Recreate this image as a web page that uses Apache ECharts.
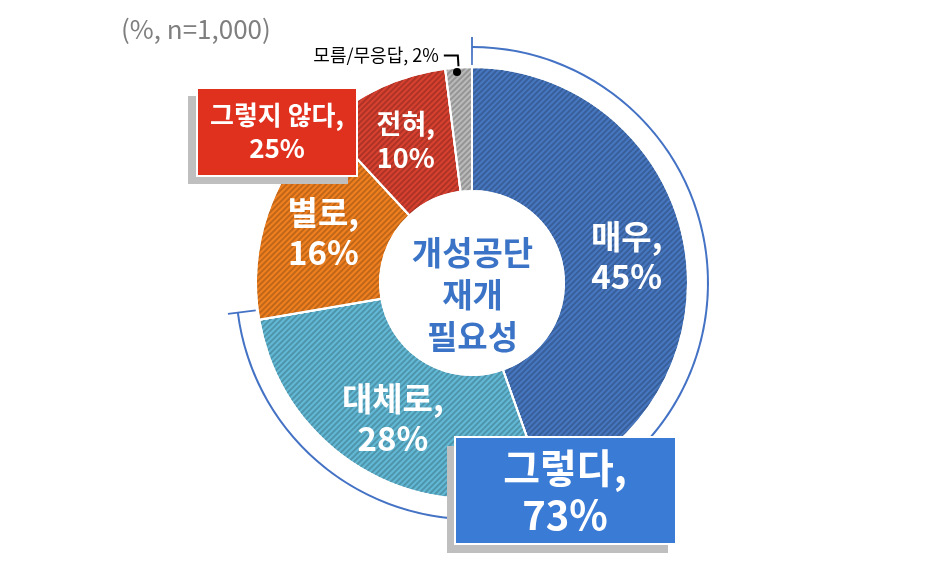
<!DOCTYPE html>
<html>
<head>
<meta charset="utf-8">
<title>개성공단 재개 필요성</title>
<script src="https://cdn.jsdelivr.net/npm/echarts@6/dist/echarts.min.js"></script>
<style>
    html, body { margin: 0; padding: 0; background: #fff; }
    #chart { width: 945px; height: 575px; }
</style>
</head>
<body>
<div id="chart"></div>
<script>
// 응답 항목 (시계 방향, 12시부터)
var categories = ["매우", "대체로", "별로", "전혀", "모름/무응답"];
var values = [45, 28, 16, 10, 2];
var colors = ["#4677c0", "#62b9d6", "#f0801f", "#d8402f", "#bababa"];
// 묶음 (그렇다 / 그렇지 않다)
var groupNames = ["그렇다", "그렇지 않다"];
var groupValues = [73, 25];

var font = "Noto Sans CJK KR";
var cx = 472, cy = 283;

var myChart = echarts.init(document.getElementById("chart"));

// 빗금 무늬
var stripe = {
    symbol: "rect",
    symbolSize: 1,
    dashArrayX: [1, 0],
    dashArrayY: [1.5, 1.5],
    rotation: -Math.PI / 4,
    color: "rgba(0,0,0,0.2)"
};

var pieData = categories.map(function (name, i) {
    var item = {
        name: name,
        value: values[i],
        itemStyle: { color: colors[i], decal: stripe }
    };
    if (i === 3) {
        item.label = { fontSize: 27, lineHeight: 34 };
    }
    if (i === 4) {
        item.label = {
            position: "outside",
            color: "#000",
            fontSize: 18,
            fontWeight: "normal",
            distance: 4,
            formatter: function (p) { return p.name + ", " + p.value + "%"; }
        };
        item.labelLine = { show: true, length: 12, length2: 14, lineStyle: { color: "#000", width: 2 } };
    }
    return item;
});

// 73% 바깥 호와 양끝 눈금
var rest = 100 - groupValues[0];
var tick = 0.12;
var option = {
    title: [{
        text: "(%, n=1,000)",
        left: 116,
        top: 11,
        textStyle: { fontFamily: font, fontSize: 26, fontWeight: "normal", color: "#7f7f7f" }
    }, {
        text: "개성공단\n재개\n필요성",
        left: "center",
        top: 226,
        textStyle: { fontFamily: font, fontSize: 33, fontWeight: "bold", color: "#3b74c6", lineHeight: 42 }
    }],
    series: [{
        type: "pie",
        center: [cx, cy],
        radius: [92, 216],
        startAngle: 90,
        clockwise: true,
        silent: true,
        itemStyle: { borderColor: "#fff", borderWidth: 2 },
        label: {
            show: true,
            position: "inside",
            fontFamily: font,
            fontSize: 33,
            fontWeight: "bold",
            color: "#fff",
            lineHeight: 40,
            formatter: function (p) { return p.name + ",\n" + p.value + "%"; }
        },
        labelLine: { show: false },
        data: pieData
    }, {
        type: "pie",
        center: [cx, cy],
        radius: [235, 237],
        startAngle: 90,
        silent: true,
        label: { show: false },
        labelLine: { show: false },
        data: [
            { name: groupNames[0], value: groupValues[0], itemStyle: { color: "#4472c4" } },
            { name: "", value: rest, itemStyle: { color: "transparent" } }
        ]
    }, {
        type: "pie",
        center: [cx, cy],
        radius: [218, 246],
        startAngle: 90 + tick * 3.6 / 2,
        silent: true,
        label: { show: false },
        labelLine: { show: false },
        data: [
            { value: tick, itemStyle: { color: "#4472c4" } },
            { value: groupValues[0] - tick, itemStyle: { color: "transparent" } },
            { value: tick, itemStyle: { color: "#4472c4" } },
            { value: rest - tick, itemStyle: { color: "transparent" } }
        ]
    }],
    graphic: [
        // 그렇지 않다 상자
        { type: "rect", z: 100, shape: { x: 188, y: 96, width: 160, height: 88 }, style: { fill: "#bfbfbf" } },
        { type: "rect", z: 101, shape: { x: 197, y: 88, width: 160, height: 88 }, style: { fill: "#e0301e", stroke: "#fff", lineWidth: 2 } },
        {
            type: "text", z: 102, x: 277, y: 132,
            style: {
                text: groupNames[1] + ",\n" + groupValues[1] + "%",
                fill: "#fff", font: "bold 26px '" + font + "'",
                align: "center", verticalAlign: "middle", lineHeight: 33
            }
        },
        // 그렇다 상자
        { type: "rect", z: 100, shape: { x: 447, y: 446, width: 221, height: 107 }, style: { fill: "#bfbfbf" } },
        { type: "rect", z: 101, shape: { x: 455, y: 437, width: 221, height: 107 }, style: { fill: "#3a7bd5", stroke: "#fff", lineWidth: 2 } },
        {
            type: "text", z: 102, x: 565, y: 491,
            style: {
                text: groupNames[0] + ",\n" + groupValues[0] + "%",
                fill: "#fff", font: "bold 40px '" + font + "'",
                align: "center", verticalAlign: "middle", lineHeight: 47
            }
        },
        // 무응답 지시선 점
        { type: "circle", z: 100, shape: { cx: 457, cy: 72, r: 4 }, style: { fill: "#000" } }
    ]
};

myChart.setOption(option);
</script>
</body>
</html>
